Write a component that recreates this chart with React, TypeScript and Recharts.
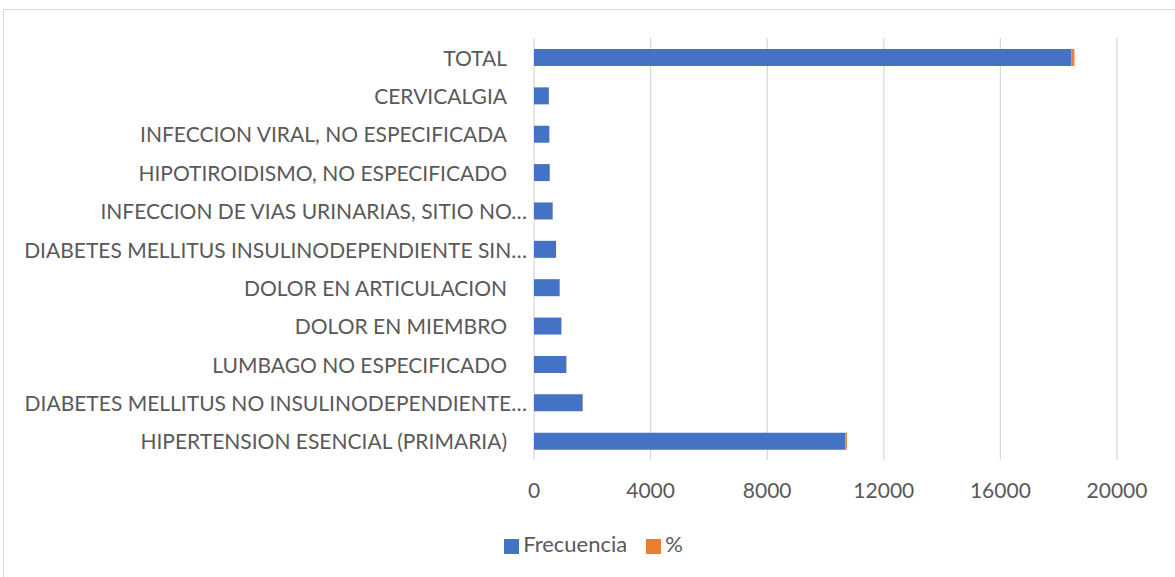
import {
  Bar,
  BarChart,
  CartesianGrid,
  Legend,
  XAxis,
  YAxis,
} from 'recharts'

const categories = [
  'TOTAL',
  'CERVICALGIA',
  'INFECCION VIRAL, NO ESPECIFICADA',
  'HIPOTIROIDISMO, NO ESPECIFICADO',
  'INFECCION DE VIAS URINARIAS, SITIO NO…',
  'DIABETES MELLITUS INSULINODEPENDIENTE SIN…',
  'DOLOR EN ARTICULACION',
  'DOLOR EN MIEMBRO',
  'LUMBAGO NO ESPECIFICADO',
  'DIABETES MELLITUS NO INSULINODEPENDIENTE…',
  'HIPERTENSION ESENCIAL (PRIMARIA)',
]

const frecuencia = [18440, 510, 525, 540, 641, 754, 881, 939, 1110, 1669, 10677]
const porcentaje = [100, 2.8, 2.8, 2.9, 3.5, 4.1, 4.8, 5.1, 6.0, 9.1, 57.9]

const xTicks = [0, 4000, 8000, 12000, 16000, 20000]

const seriesOrder = ['Frecuencia', '%']

const FONT = 'Lato, "Open Sans", sans-serif'
const TEXT = '#595959'

const chartData = categories.map((name, i) => ({
  name,
  Frecuencia: frecuencia[i],
  '%': porcentaje[i],
}))

function CategoryTick(props: any) {
  const { x, y, payload } = props
  const label: string = payload.value
  // Excel pushes truncated labels a bit further right
  const shift = label.endsWith('…') ? 20 : 0
  return (
    <text
      x={x + shift}
      y={y}
      textAnchor="end"
      dominantBaseline="central"
      fill={TEXT}
      fontSize={21}
      fontFamily={FONT}
    >
      {label}
    </text>
  )
}

export default function App() {
  return (
    <div
      style={{
        position: 'absolute',
        left: 0,
        top: 0,
        width: 1175,
        height: 577,
        overflow: 'hidden',
        background: '#fff',
      }}
    >
      <div
        style={{
          position: 'absolute',
          left: 3,
          top: 9,
          width: 1200,
          height: 600,
          border: '1px solid #d9d9d9',
        }}
      />
      <div style={{ position: 'absolute', left: 0, top: 0 }}>
        <BarChart
          width={1175}
          height={577}
          data={chartData}
          layout="vertical"
          margin={{ top: 38, right: 58, left: 0, bottom: 10 }}
          barSize={17}
        >
          <CartesianGrid horizontal={false} stroke="#d9d9d9" strokeWidth={1.3} />
          <XAxis
            type="number"
            domain={[0, 20000]}
            ticks={xTicks}
            axisLine={false}
            tickLine={false}
            height={50}
            tickMargin={17}
            tick={{ fill: TEXT, fontSize: 21, fontFamily: FONT }}
          />
          <YAxis
            type="category"
            dataKey="name"
            width={534}
            axisLine={false}
            tickLine={false}
            interval={0}
            tickMargin={21}
            tick={<CategoryTick />}
          />
          <Legend
            verticalAlign="bottom"
            align="center"
            iconType="square"
            iconSize={15}
            height={57}
            itemSorter={(item: any) => seriesOrder.indexOf(item.value)}
            wrapperStyle={{
              fontFamily: FONT,
              fontSize: 22,
              color: TEXT,
              paddingLeft: 40,
              bottom: -10,
            }}
            formatter={(value) => (
              <span style={{ color: TEXT, marginRight: value === '%' ? 0 : 9 }}>
                {value}
              </span>
            )}
          />
          <Bar
            dataKey="Frecuencia"
            stackId="a"
            fill="#4472C4"
            isAnimationActive={false}
          />
          <Bar
            dataKey="%"
            stackId="a"
            fill="#ED7D31"
            isAnimationActive={false}
          />
        </BarChart>
      </div>
    </div>
  )
}
